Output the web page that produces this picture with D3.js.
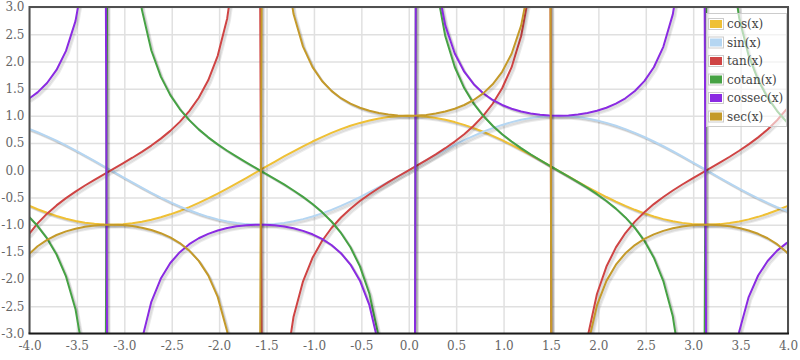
<!DOCTYPE html>
<html><head><meta charset="utf-8">
<script src="https://cdn.jsdelivr.net/npm/d3@7"></script>
<style>body{margin:0;background:#fff}svg{display:block}</style>
</head><body><svg id="c" width="800" height="360"></svg>
<script>
const xs = [-4.015,-3.915,-3.815,-3.715,-3.615,-3.515,-3.415,-3.315,-3.215,-3.115,-3.015,-2.915,-2.815,-2.715,-2.615,-2.515,-2.415,-2.315,-2.215,-2.115,-2.015,-1.915,-1.815,-1.715,-1.615,-1.515,-1.415,-1.315,-1.215,-1.115,-1.015,-0.915,-0.815,-0.715,-0.615,-0.515,-0.415,-0.315,-0.215,-0.115,-0.015,0.085,0.185,0.285,0.385,0.485,0.585,0.685,0.785,0.885,0.985,1.085,1.185,1.285,1.385,1.485,1.585,1.685,1.785,1.885,1.985,2.085,2.185,2.285,2.385,2.485,2.585,2.685,2.785,2.885,2.985,3.085,3.185,3.285,3.385,3.485,3.585,3.685,3.785,3.885,3.985,4.085];
const cosVals = [-0.642,-0.716,-0.782,-0.840,-0.890,-0.931,-0.963,-0.985,-0.997,-1.000,-0.992,-0.975,-0.947,-0.911,-0.865,-0.810,-0.748,-0.678,-0.601,-0.518,-0.430,-0.338,-0.242,-0.144,-0.044,0.056,0.155,0.253,0.348,0.440,0.528,0.610,0.686,0.755,0.817,0.870,0.915,0.951,0.977,0.994,1.000,0.996,0.983,0.960,0.927,0.885,0.834,0.775,0.708,0.633,0.553,0.467,0.376,0.282,0.185,0.086,-0.014,-0.114,-0.213,-0.309,-0.403,-0.492,-0.576,-0.655,-0.727,-0.792,-0.849,-0.898,-0.937,-0.967,-0.988,-0.999,-0.999,-0.990,-0.971,-0.942,-0.903,-0.856,-0.800,-0.736,-0.665,-0.587];
const sinVals = [0.767,0.699,0.624,0.543,0.456,0.365,0.270,0.173,0.073,-0.027,-0.126,-0.225,-0.321,-0.414,-0.503,-0.587,-0.664,-0.736,-0.800,-0.856,-0.903,-0.942,-0.970,-0.990,-0.999,-0.999,-0.988,-0.968,-0.937,-0.898,-0.850,-0.793,-0.728,-0.656,-0.577,-0.493,-0.403,-0.310,-0.213,-0.115,-0.015,0.085,0.184,0.281,0.376,0.466,0.552,0.633,0.707,0.774,0.833,0.884,0.927,0.960,0.983,0.996,1.000,0.994,0.977,0.951,0.916,0.871,0.817,0.756,0.687,0.611,0.528,0.441,0.349,0.254,0.156,0.057,-0.043,-0.143,-0.241,-0.337,-0.429,-0.517,-0.600,-0.677,-0.747,-0.810];
const tanVals = [-1.194,-0.976,-0.798,-0.646,-0.512,-0.392,-0.280,-0.175,-0.074,0.027,0.127,0.230,0.339,0.454,0.581,0.724,0.889,1.086,1.332,1.653,2.102,2.790,4.013,6.888,22.61,-17.93,-6.366,-3.825,-2.691,-2.040,-1.610,-1.300,-1.061,-0.868,-0.706,-0.566,-0.441,-0.326,-0.218,-0.115,-0.015,0.085,0.187,0.293,0.405,0.527,0.662,0.817,0.999,1.222,1.507,1.894,2.462,3.403,5.318,11.63,-70.4,-8.724,-4.596,-3.077,-2.275,-1.770,-1.418,-1.154,-0.944,-0.771,-0.622,-0.491,-0.372,-0.262,-0.158,-0.057,0.043,0.144,0.248,0.358,0.475,0.604,0.750,0.919,1.123,1.379];
const cotanVals = [-0.838,-1.025,-1.253,-1.548,-1.952,-2.553,-3.567,-5.71,-13.59,37.6,7.86,4.339,2.952,2.200,1.720,1.381,1.125,0.921,0.751,0.605,0.476,0.358,0.249,0.145,0.044,-0.056,-0.157,-0.261,-0.372,-0.490,-0.621,-0.769,-0.942,-1.152,-1.416,-1.767,-2.270,-3.069,-4.579,-8.662,-66.66,11.74,5.343,3.413,2.468,1.898,1.510,1.224,1.001,0.818,0.663,0.528,0.406,0.294,0.188,0.086,-0.014,-0.115,-0.218,-0.325,-0.440,-0.565,-0.705,-0.867,-1.059,-1.297,-1.607,-2.036,-2.685,-3.812,-6.333,-17.64,23.02,6.927,4.027,2.796,2.106,1.655,1.334,1.088,0.890,0.725];
const cossecVals = [1.304,1.431,1.603,1.843,2.193,2.741,3.704,5.797,13.62,-37.59,-7.924,-4.452,-3.116,-2.417,-1.990,-1.705,-1.505,-1.359,-1.250,-1.169,-1.107,-1.062,-1.031,-1.010,-1.001,-1.001,-1.012,-1.033,-1.067,-1.114,-1.177,-1.262,-1.374,-1.525,-1.733,-2.030,-2.480,-3.228,-4.686,-8.718,-66.67,11.78,5.435,3.556,2.662,2.145,1.811,1.581,1.415,1.292,1.200,1.131,1.079,1.042,1.018,1.004,1.000,1.006,1.023,1.051,1.092,1.148,1.224,1.323,1.456,1.638,1.893,2.268,2.865,3.940,6.410,17.67,-23.04,-6.998,-4.149,-2.969,-2.331,-1.934,-1.667,-1.477,-1.339,-1.235];
const secVals = [-1.557,-1.397,-1.279,-1.190,-1.123,-1.074,-1.038,-1.015,-1.003,-1.000,-1.008,-1.026,-1.056,-1.098,-1.157,-1.234,-1.338,-1.476,-1.665,-1.932,-2.327,-2.963,-4.136,-6.959,-22.62,17.95,6.443,3.953,2.870,2.272,1.895,1.640,1.458,1.324,1.224,1.149,1.093,1.052,1.023,1.007,1.000,1.004,1.017,1.042,1.079,1.130,1.199,1.291,1.413,1.579,1.809,2.141,2.657,3.546,5.411,11.67,-70.4,-8.780,-4.704,-3.235,-2.484,-2.033,-1.735,-1.526,-1.375,-1.262,-1.178,-1.114,-1.067,-1.034,-1.012,-1.002,-1.001,-1.010,-1.030,-1.062,-1.107,-1.168,-1.250,-1.358,-1.504,-1.703];
const seriesNames = ["cos(x)","sin(x)","tan(x)","cotan(x)","cossec(x)","sec(x)"];
const seriesColors = ["#efc035","#b5d6f2","#cf4444","#46a244","#8a2be2","#c49a2a"];
const xTicks = [-4,-3.5,-3,-2.5,-2,-1.5,-1,-0.5,0,0.5,1,1.5,2,2.5,3,3.5,4];
const yTicks = [-3,-2.5,-2,-1.5,-1,-0.5,0,0.5,1,1.5,2,2.5,3];

const seriesData = [cosVals, sinVals, tanVals, cotanVals, cossecVals, secVals];
const L = 29.5, R = 788, T = 7, B = 333.5;
const svg = d3.select("#c");
const x = d3.scaleLinear().domain([-4, 4]).range([L, R]);
const y = d3.scaleLinear().domain([-3, 3]).range([B, T]);
const fmt = v => d3.format(".1f")(v).replace("\u2212", "-");
const FONT = "DejaVu Serif, serif";

svg.append("defs").append("clipPath").attr("id", "plotclip")
  .append("rect").attr("x", L).attr("y", T).attr("width", R - L).attr("height", B - T);

svg.append("rect").attr("x", L).attr("y", T).attr("width", R - L).attr("height", B - T).attr("fill", "#fff");

// grid
const gx = svg.append("g").attr("transform", `translate(0,${B})`)
  .call(d3.axisBottom(x).tickValues(xTicks).tickSize(-(B - T)).tickFormat(""));
gx.select(".domain").remove();
gx.selectAll("line").attr("stroke", "#e0e0e0").attr("stroke-width", 1.5);
const gy = svg.append("g").attr("transform", `translate(${L},0)`)
  .call(d3.axisLeft(y).tickValues(yTicks).tickSize(-(R - L)).tickFormat(""));
gy.select(".domain").remove();
gy.selectAll("line").attr("stroke", "#e0e0e0").attr("stroke-width", 1.5);

// series
const plot = svg.append("g").attr("clip-path", "url(#plotclip)");
const line = d3.line().x(d => x(d[0])).y(d => y(d[1]));
seriesData.forEach((vals, si) => {
  const pts = xs.map((xv, i) => [xv, vals[i]]);
  for (let j = 3; j >= 1; j--) {
    plot.append("path").datum(pts).attr("d", line)
      .attr("transform", `translate(${0.9 * j},${0.9 * j})`)
      .attr("fill", "none").attr("stroke", "rgba(0,0,0,0.08)")
      .attr("stroke-width", 2).attr("stroke-linejoin", "round");
  }
  plot.append("path").datum(pts).attr("d", line)
    .attr("fill", "none").attr("stroke", seriesColors[si])
    .attr("stroke-width", 2).attr("stroke-linejoin", "round");
});

// border
svg.append("path")
  .attr("d", `M${L},${B}L${L},${T}L${R},${T}L${R},${B}`)
  .attr("fill", "none").attr("stroke", "#505050").attr("stroke-width", 2);
svg.append("line").attr("x1", L - 1).attr("x2", R + 1).attr("y1", B).attr("y2", B)
  .attr("stroke", "#1a1a1a").attr("stroke-width", 2);

// axis labels
const ax = svg.append("g").attr("transform", `translate(0,${B})`)
  .call(d3.axisBottom(x).tickValues(xTicks).tickSize(0).tickPadding(8).tickFormat(fmt));
ax.select(".domain").remove();
ax.selectAll("text").attr("font-family", FONT).attr("font-size", 12).attr("fill", "#666");
const ay = svg.append("g").attr("transform", `translate(${L},0)`)
  .call(d3.axisLeft(y).tickValues(yTicks).tickSize(0).tickPadding(5).tickFormat(fmt));
ay.select(".domain").remove();
ay.selectAll("text").attr("font-family", FONT).attr("font-size", 12).attr("fill", "#666");

// legend
const lg = svg.append("g");
lg.append("rect").attr("x", 706.5).attr("y", 13.5).attr("width", 80).attr("height", 113)
  .attr("fill", "rgba(255,255,255,0.6)").attr("stroke", "#cccccc");
seriesNames.forEach((name, i) => {
  const cy = 24 + i * 18.5;
  lg.append("rect").attr("x", 708.5).attr("y", cy - 5.5).attr("width", 15).attr("height", 11)
    .attr("fill", "none").attr("stroke", "#cccccc");
  lg.append("rect").attr("x", 710).attr("y", cy - 4).attr("width", 12).attr("height", 8)
    .attr("fill", seriesColors[i]);
  lg.append("text").attr("x", 727).attr("y", cy).attr("dy", "0.35em")
    .attr("font-family", FONT).attr("font-size", 12).attr("fill", "#444").text(name);
});
</script>
</body></html>
